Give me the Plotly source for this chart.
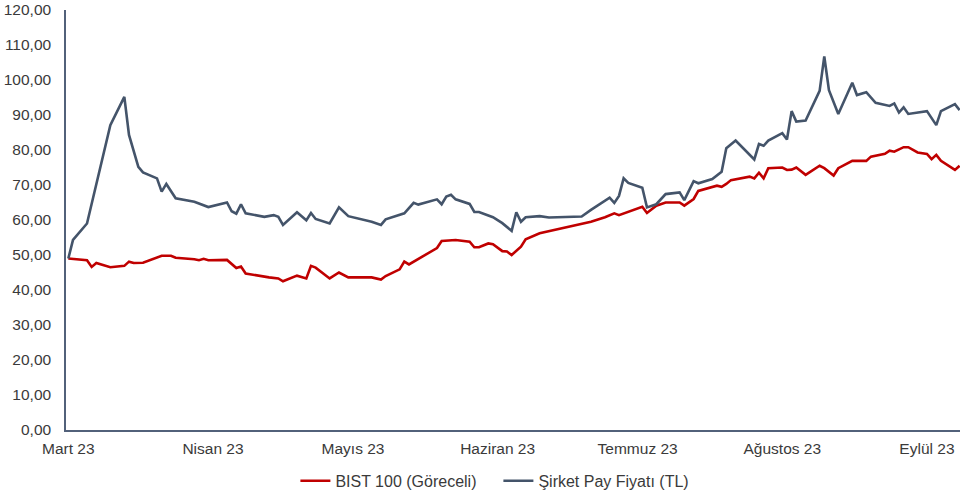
import plotly.graph_objects as go

# Month tick labels
tick_dates = ["2023-03-01", "2023-04-01", "2023-05-01", "2023-06-01",
              "2023-07-01", "2023-08-01", "2023-09-01"]
tick_labels = ["Mart 23", "Nisan 23", "Mayıs 23", "Haziran 23",
               "Temmuz 23", "Ağustos 23", "Eylül 23"]

# Şirket Pay Fiyatı (TL)
share_dates = [
    "2023-03-01", "2023-03-02", "2023-03-05", "2023-03-06", "2023-03-10", "2023-03-13",
    "2023-03-14", "2023-03-16", "2023-03-17", "2023-03-20", "2023-03-21", "2023-03-22",
    "2023-03-24", "2023-03-28", "2023-03-30", "2023-03-31", "2023-04-04", "2023-04-05",
    "2023-04-06", "2023-04-07", "2023-04-08", "2023-04-12", "2023-04-14", "2023-04-15",
    "2023-04-16", "2023-04-19", "2023-04-21", "2023-04-22", "2023-04-23", "2023-04-26",
    "2023-04-28", "2023-04-30", "2023-05-05", "2023-05-07", "2023-05-08", "2023-05-11",
    "2023-05-12", "2023-05-14", "2023-05-15", "2023-05-19", "2023-05-20", "2023-05-21",
    "2023-05-22", "2023-05-23", "2023-05-26", "2023-05-27", "2023-05-28", "2023-05-31",
    "2023-06-02", "2023-06-04", "2023-06-05", "2023-06-06", "2023-06-07", "2023-06-10",
    "2023-06-12", "2023-06-19", "2023-06-21", "2023-06-25", "2023-06-26", "2023-06-27",
    "2023-06-28", "2023-06-29", "2023-07-02", "2023-07-03", "2023-07-05", "2023-07-07",
    "2023-07-10", "2023-07-11", "2023-07-13", "2023-07-14", "2023-07-17", "2023-07-19",
    "2023-07-20", "2023-07-22", "2023-07-26", "2023-07-27", "2023-07-28", "2023-07-29",
    "2023-08-01", "2023-08-02", "2023-08-03", "2023-08-04", "2023-08-06", "2023-08-09",
    "2023-08-10", "2023-08-11", "2023-08-13", "2023-08-16", "2023-08-17", "2023-08-19",
    "2023-08-21", "2023-08-24", "2023-08-25", "2023-08-26", "2023-08-27", "2023-08-28",
    "2023-09-01", "2023-09-03", "2023-09-04", "2023-09-07", "2023-09-08",
]
share_values = [
    49.0, 54.3, 59.0, 64.8, 87.1, 95.2,
    84.3, 75.2, 73.6, 71.9, 68.1, 70.3,
    66.2, 65.2, 64.3, 63.7, 65.0, 62.5,
    61.8, 64.5, 61.9, 60.9, 61.4, 60.9,
    58.6, 62.2, 59.9, 62.0, 60.3, 59.0,
    63.6, 61.1, 59.5, 58.6, 60.2, 61.6,
    61.9, 64.9, 64.4, 65.9, 64.5, 66.7,
    67.2, 65.9, 64.6, 62.3, 62.3, 60.8,
    59.1, 56.9, 62.2, 59.5, 60.8, 61.1,
    60.7, 61.0, 62.9, 66.4, 64.9, 66.9,
    71.9, 70.6, 69.2, 63.6, 64.5, 67.4,
    67.9, 65.7, 71.1, 70.5, 71.7, 73.8,
    80.5, 82.7, 77.3, 81.7, 81.2, 82.7,
    84.8, 83.0, 91.1, 88.1, 88.4, 96.9,
    106.7, 97.1, 90.3, 99.2, 95.7, 96.5,
    93.5, 92.6, 93.3, 90.7, 92.2, 90.3,
    91.1, 87.1, 91.1, 93.1, 91.4,
]

# BIST 100 (Göreceli)
bist_dates = [
    "2023-03-01", "2023-03-05", "2023-03-06", "2023-03-07", "2023-03-10", "2023-03-13",
    "2023-03-14", "2023-03-15", "2023-03-17", "2023-03-21", "2023-03-23", "2023-03-24",
    "2023-03-28", "2023-03-29", "2023-03-30", "2023-03-31", "2023-04-04", "2023-04-06",
    "2023-04-07", "2023-04-08", "2023-04-13", "2023-04-15", "2023-04-16", "2023-04-19",
    "2023-04-21", "2023-04-22", "2023-04-23", "2023-04-26", "2023-04-28", "2023-04-30",
    "2023-05-04", "2023-05-05", "2023-05-07", "2023-05-08", "2023-05-11", "2023-05-12",
    "2023-05-13", "2023-05-16", "2023-05-19", "2023-05-20", "2023-05-23", "2023-05-26",
    "2023-05-27", "2023-05-28", "2023-05-30", "2023-05-31", "2023-06-02", "2023-06-03",
    "2023-06-04", "2023-06-06", "2023-06-07", "2023-06-10", "2023-06-13", "2023-06-18",
    "2023-06-21", "2023-06-24", "2023-06-26", "2023-06-27", "2023-07-02", "2023-07-03",
    "2023-07-05", "2023-07-07", "2023-07-10", "2023-07-11", "2023-07-13", "2023-07-14",
    "2023-07-18", "2023-07-19", "2023-07-20", "2023-07-21", "2023-07-25", "2023-07-26",
    "2023-07-27", "2023-07-28", "2023-07-29", "2023-08-01", "2023-08-02", "2023-08-03",
    "2023-08-04", "2023-08-06", "2023-08-09", "2023-08-10", "2023-08-12", "2023-08-13",
    "2023-08-16", "2023-08-19", "2023-08-20", "2023-08-23", "2023-08-24", "2023-08-25",
    "2023-08-27", "2023-08-28", "2023-08-30", "2023-09-01", "2023-09-02", "2023-09-03",
    "2023-09-04", "2023-09-07", "2023-09-08",
]
bist_values = [
    49.0, 48.5, 46.6, 47.7, 46.5, 46.9,
    48.1, 47.7, 47.8, 49.8, 49.8, 49.2,
    48.8, 48.5, 48.9, 48.5, 48.6, 46.3,
    46.7, 44.7, 43.6, 43.3, 42.5, 44.1,
    43.3, 46.9, 46.4, 43.3, 45.0, 43.6,
    43.6, 43.6, 43.0, 44.0, 45.9, 48.1,
    47.3, 49.7, 52.0, 54.0, 54.3, 53.8,
    52.2, 52.2, 53.3, 53.1, 51.1, 51.0,
    50.0, 52.4, 54.5, 56.2, 57.1, 58.6,
    59.5, 60.8, 61.9, 61.4, 63.8, 62.0,
    64.1, 65.0, 65.0, 64.1, 66.0, 68.3,
    69.8, 69.5, 70.3, 71.4, 72.4, 71.9,
    73.5, 71.9, 74.8, 75.0, 74.3, 74.4,
    75.0, 72.9, 75.5, 74.8, 72.7, 74.8,
    76.9, 76.9, 78.1, 78.9, 79.8, 79.5,
    80.8, 80.8, 79.3, 78.9, 77.4, 78.6,
    76.9, 74.3, 75.5,
]

FONT = "Liberation Sans, Arial, sans-serif"
TEXT = "#3a3a3a"
AXIS = "#52617a"

fig = go.Figure()
fig.add_trace(go.Scatter(
    x=bist_dates, y=bist_values, mode="lines", name="BIST 100 (Göreceli)",
    line=dict(color="#C00000", width=2.6),
))
fig.add_trace(go.Scatter(
    x=share_dates, y=share_values, mode="lines", name="Şirket Pay Fiyatı (TL)",
    line=dict(color="#44546A", width=2.6),
))

fig.update_layout(
    width=960, height=498,
    margin=dict(l=66, r=0, t=10, b=68, autoexpand=False),
    paper_bgcolor="white", plot_bgcolor="white",
    separators=",.",
    font=dict(family=FONT, size=15, color=TEXT),
    showlegend=True,
    legend=dict(
        orientation="h", x=0.2566, xanchor="left", y=-0.121, yanchor="middle",
        font=dict(family=FONT, size=16, color=TEXT),
        itemwidth=30, traceorder="normal",
        entrywidth=158, entrywidthmode="pixels",
    ),
    xaxis=dict(
        type="date", automargin=False,
        range=["2023-02-28 12:00", "2023-09-08 02:00"],
        tickmode="array", tickvals=tick_dates, ticktext=tick_labels,
        showgrid=False, zeroline=False,
        showline=True, linecolor=AXIS, linewidth=1.5,
        ticks="", ticklabelstandoff=4,
        tickfont=dict(family=FONT, size=15.5, color=TEXT),
    ),
    yaxis=dict(
        range=[0, 120], tickmode="array", automargin=False,
        tickvals=[0, 10, 20, 30, 40, 50, 60, 70, 80, 90, 100, 110, 120],
        tickformat=".2f",
        showgrid=False, zeroline=False,
        showline=True, linecolor=AXIS, linewidth=1.5,
        ticks="", ticklabelstandoff=10,
        tickfont=dict(family=FONT, size=15.5, color=TEXT),
    ),
)

fig.write_html(
    "out.html",
    config={"displayModeBar": False},
    post_script="document.body.style.margin='0';document.body.style.padding='0';",
)
